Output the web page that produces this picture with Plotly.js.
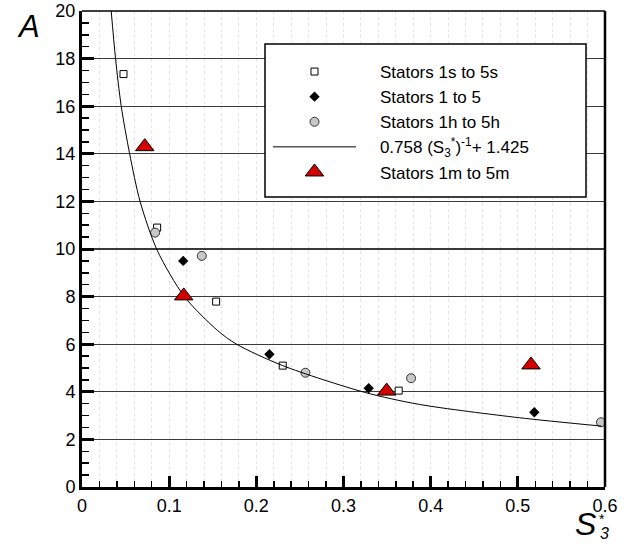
<!DOCTYPE html>
<html>
<head>
<meta charset="utf-8">
<script src="https://cdn.plot.ly/plotly-3.0.1.min.js"></script>
<style>html,body{margin:0;padding:0;background:#fff;}#chart{width:632px;height:546px;}</style>
</head>
<body>
<div id="chart"></div>
<script>
// Stators 1s to 5s (open squares)
const sX = [0.0476, 0.0862, 0.1539, 0.2303, 0.3633];
const sY = [17.35, 10.9, 7.79, 5.10, 4.05];
// Stators 1 to 5 (black diamonds)
const dX = [0.1161, 0.2150, 0.3289, 0.5189];
const dY = [9.50, 5.58, 4.15, 3.14];
// Stators 1h to 5h (grey circles)
const hX = [0.0839, 0.1374, 0.2563, 0.3775, 0.5954];
const hY = [10.69, 9.71, 4.80, 4.57, 2.72];
// Stators 1m to 5m (red triangles)
const mX = [0.0720, 0.1167, 0.3495, 0.5151];
const mY = [14.3, 8.03, 4.03, 5.13];
// Fit curve 0.758/S + 1.425
const fX = [0.0335, 0.0384, 0.0450, 0.0545, 0.0667, 0.0862, 0.1175, 0.1557, 0.1768, 0.2303, 0.3240, 0.3870, 0.5017, 0.5958];
const fY = [20.0, 18.03, 16.0, 14.03, 11.99, 9.95, 8.0, 6.57, 6.01, 5.10, 3.98, 3.47, 2.91, 2.56];

const NB = '\u00A0\u00A0\u00A0\u00A0';
const legendNames = ['Stators 1s to 5s', 'Stators 1 to 5', 'Stators 1h to 5h',
  '0.758 (S<sub>3</sub><sup>*</sup>)<sup>-1</sup>+ 1.425', 'Stators 1m to 5m'];

const FONT = 'Liberation Sans, Arial, Helvetica, sans-serif';

const traces = [
  {x: sX, y: sY, mode: 'markers', name: NB + legendNames[0], cliponaxis: false,
   marker: {symbol: 'square', size: 7, color: '#ffffff', line: {color: '#000', width: 1}}},
  {x: dX, y: dY, mode: 'markers', name: NB + legendNames[1], cliponaxis: false,
   marker: {symbol: 'diamond', size: 8, color: '#000', line: {color: '#000', width: 0}}},
  {x: hX, y: hY, mode: 'markers', name: NB + legendNames[2], cliponaxis: false,
   marker: {symbol: 'circle', size: 9, color: '#c8c8c8', line: {color: '#333', width: 1}}},
  {x: fX, y: fY, mode: 'lines', name: NB + legendNames[3],
   line: {color: '#000', width: 1, shape: 'spline', smoothing: 0.8}},
  {x: mX, y: mY, mode: 'markers', name: NB + legendNames[4], cliponaxis: false,
   marker: {symbol: 'triangle-up', size: 16, color: '#d40000', line: {color: '#000', width: 1}}}
];

const layout = {
  width: 632, height: 546,
  margin: {l: 82, r: 27, t: 11, b: 59},
  paper_bgcolor: '#fff', plot_bgcolor: '#fff',
  font: {family: FONT, size: 18, color: '#000'},
  showlegend: true,
  legend: {x: (268 - 82) / 523, y: (487 - 54) / 476, xanchor: 'left', yanchor: 'top',
    bgcolor: 'rgba(0,0,0,0)', borderwidth: 0, itemwidth: 83,
    font: {family: FONT, size: 17, color: '#000'}, tracegroupgap: 0},
  xaxis: {range: [0, 0.6], dtick: 0.1, tick0: 0,
    showline: true, linecolor: '#000', linewidth: 3, mirror: false,
    ticks: 'inside', ticklen: 11, tickwidth: 3, tickcolor: '#000',
    showgrid: true, gridcolor: '#e4e4e4', griddash: 'dot', gridwidth: 1,
    zeroline: false,
    minor: {dtick: 0.02, ticks: 'inside', ticklen: 6, tickwidth: 1.5, tickcolor: '#000',
      showgrid: true, gridcolor: '#e4e4e4', griddash: 'dot', gridwidth: 1},
    tickfont: {size: 18}},
  yaxis: {range: [0, 20], dtick: 2, tick0: 0,
    showline: true, linecolor: '#000', linewidth: 3, mirror: false,
    ticks: 'inside', ticklen: 12, tickwidth: 3, tickcolor: '#000',
    showgrid: true, gridcolor: '#3a3a3a', gridwidth: 1.2,
    zeroline: false,
    minor: {dtick: 0.5, ticks: 'inside', ticklen: 7, tickwidth: 1.5, tickcolor: '#000', showgrid: false},
    tickfont: {size: 18}},
  shapes: [
    {type: 'line', xref: 'paper', yref: 'paper', x0: 0, x1: 1, y0: 1, y1: 1,
     line: {color: '#000', width: 1.5}},
    {type: 'line', xref: 'paper', yref: 'paper', x0: 1, x1: 1, y0: 0, y1: 1,
     line: {color: '#000', width: 2.5}},
    {type: 'rect', xref: 'paper', yref: 'paper', layer: 'above',
     x0: (265 - 82) / 523, x1: (586 - 82) / 523, y0: (487 - 197) / 476, y1: (487 - 44) / 476,
     fillcolor: '#fff', line: {color: '#000', width: 1.5}}
  ],
  annotations: [
    {text: '<i>A</i>', xref: 'paper', yref: 'paper', x: (28 - 82) / 523, y: (487 - 26) / 476,
     xanchor: 'center', yanchor: 'middle', showarrow: false, font: {size: 31, family: FONT}},
    {text: '<i>S</i>', xref: 'paper', yref: 'paper', x: (585 - 82) / 523, y: (487 - 524) / 476,
     xanchor: 'center', yanchor: 'middle', showarrow: false, font: {size: 32, family: FONT}},
    {text: '<i>3</i>', xref: 'paper', yref: 'paper', x: (604 - 82) / 523, y: (487 - 533) / 476,
     xanchor: 'center', yanchor: 'middle', showarrow: false, font: {size: 16, family: FONT}},
    {text: '*', xref: 'paper', yref: 'paper', x: (602 - 82) / 523, y: (487 - 519) / 476,
     xanchor: 'center', yanchor: 'middle', showarrow: false, font: {size: 14, family: FONT}}
  ]
};

Plotly.newPlot('chart', traces, layout, {staticPlot: true, displayModeBar: false});
</script>
</body>
</html>
